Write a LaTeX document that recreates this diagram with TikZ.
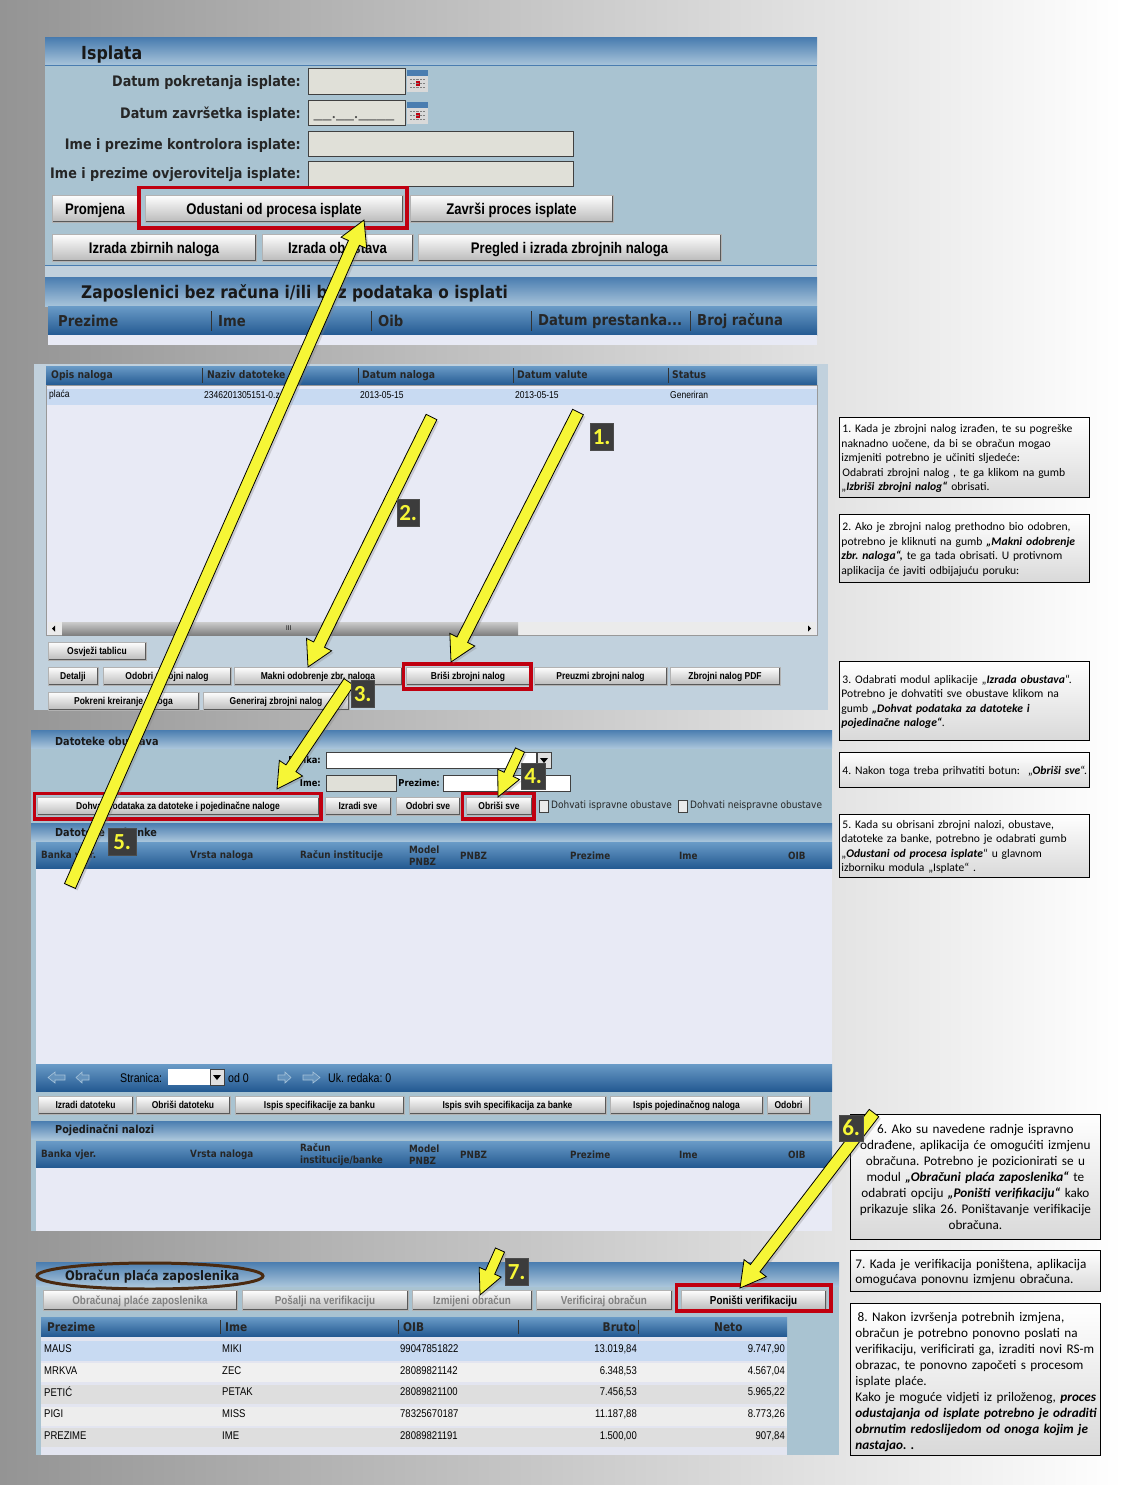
\documentclass[tikz,border=0pt]{standalone}
\usepackage{fontspec}
\usetikzlibrary{calc,shadows}
\setmainfont{Carlito}
\newfontfamily\uifont[FakeStretch=0.88]{DejaVu Sans}
\newfontfamily\btnfont[FakeStretch=0.85]{Liberation Sans}
\definecolor{panelblue}{HTML}{A9C3D1}
\definecolor{panelpale}{HTML}{C1D1DD}
\definecolor{lavender}{HTML}{E8EAF5}
\definecolor{rowblue}{HTML}{C8DAF2}
\definecolor{fieldgrey}{HTML}{E0E0D8}
\definecolor{barTop}{HTML}{4A7DB0}
\definecolor{barBottom}{HTML}{A8C4DA}
\definecolor{headTop}{HTML}{6A9BC7}
\definecolor{headBottom}{HTML}{245A92}
\definecolor{frameRed}{HTML}{C00010}
\definecolor{arrowYellow}{HTML}{F6F636}
\definecolor{tagGrey}{HTML}{3C3C3C}
\definecolor{ovalBrown}{HTML}{4A2A10}
\newcommand{\blockarrow}[4]{%
  \coordinate (neck) at ($(#2)!25pt!(#1)$);
  \draw [yellowarrow] ($(#1)!#3!90:(#2)$) -- ($(neck)!#3!-90:(#1)$) -- ($(neck)!#4!-90:(#1)$) -- (#2)
    -- ($(neck)!#4!90:(#1)$) -- ($(neck)!#3!90:(#1)$) -- ($(#1)!#3!-90:(#2)$) -- cycle;}
\newcommand{\calicon}[2]{%
  \fill [black!15] (#1,#2) rectangle +(21,22);
  \fill [barTop] (#1,#2) rectangle +(21,6);
  \fill [frameRed] (#1+9,#2+11) rectangle +(4,5);
  \draw [black!50,densely dotted] (#1+3,#2+9) -- +(15,0) (#1+3,#2+13) -- +(15,0) (#1+3,#2+17) -- +(15,0);}
\tikzset{
  titlebar/.style={top color=barTop, bottom color=barBottom},
  headbar/.style={top color=headTop, bottom color=headBottom},
  headsep/.style={draw=black!80, line width=.8pt},
  titletext/.style={anchor=west, inner sep=0pt, font=\uifont\bfseries\fontsize{18}{18}\selectfont, text=black!90},
  smalltitle/.style={anchor=west, inner sep=0pt, font=\uifont\bfseries\fontsize{11}{11}\selectfont, text=black!90},
  labeltext/.style={anchor=east, inner sep=0pt, font=\uifont\bfseries\fontsize{14.5}{14.5}\selectfont, text=black!85},
  headtext/.style={anchor=west, inner sep=0pt, font=\uifont\bfseries\fontsize{15}{15}\selectfont, text=black!85},
  headsmall/.style={anchor=west, inner sep=0pt, align=left, font=\uifont\bfseries\fontsize{10}{12}\selectfont, text=black!85},
  nalogtext/.style={headsmall, text height=8pt, text depth=2pt, font=\uifont\bfseries\fontsize{10.5}{10.5}\selectfont},
  navtext/.style={headsmall, text=black, font=\btnfont\fontsize{12.5}{12.5}\selectfont},
  columntext/.style={headsmall, font=\uifont\bfseries\fontsize{12}{12}\selectfont},
  cellnode/.style={anchor=west, inner sep=0pt, font=\btnfont\fontsize{10}{10}\selectfont},
  widecell/.style={cellnode, font=\btnfont\fontsize{11.2}{11.2}\selectfont},
  cellright/.style={widecell, anchor=east},
  formtext/.style={anchor=east, inner sep=0pt, font=\uifont\bfseries\fontsize{9.5}{9.5}\selectfont},
  fieldbox/.style={draw=black!75, fill=fieldgrey, line width=.8pt},
  uibutton/.style={draw=black!30, top color=white, bottom color=black!27, inner sep=0pt, outer sep=0pt, anchor=north west, text depth=0pt, font=\btnfont\bfseries\fontsize{10}{10}\selectfont,
    path picture={\draw [black!65, line width=2pt] (path picture bounding box.south west) -- (path picture bounding box.south east) -- (path picture bounding box.north east);}},
  bigbutton/.style={uibutton, minimum height=27pt, font=\btnfont\bfseries\fontsize{15.4}{15.4}\selectfont},
  lowbutton/.style={uibutton, minimum height=18pt},
  wanbutton/.style={uibutton, minimum height=20pt, font=\btnfont\bfseries\fontsize{11.6}{11.6}\selectfont, text=black!50},
  redframe/.style={draw=frameRed, line width=3.2pt},
  yellowarrow/.style={fill=arrowYellow, draw=black, line width=.8pt, line join=miter, drop shadow={opacity=.3, shadow xshift=2pt, shadow yshift=-2pt}},
  numbertag/.style={fill=tagGrey, draw=black!70, text=arrowYellow, inner sep=0pt, anchor=north west, font=\bfseries\fontsize{23}{23}\selectfont},
  notebox/.style={draw=black, line width=.8pt, top color=white, bottom color=black!15, anchor=north west, inner xsep=2pt, inner ysep=0pt, text width=246pt, align=left, font=\fontsize{11.6}{14.5}\selectfont},
  bignote/.style={notebox, font=\fontsize{13.2}{16}\selectfont},
  navarrow/.style={fill=black!5!headTop, draw=barBottom, line width=.6pt},
}
\frenchspacing
\begin{document}
\begin{tikzpicture}[x=1pt,y=-1pt]
\useasboundingbox (0,0) rectangle (1123,1485);
\fill [left color=black!42, middle color=black!24, right color=white] (0,0) rectangle (1123,1485);

\fill [panelblue] (45,38) rectangle (817,265);
\fill [panelpale] (45,265) rectangle (817,278);
\shade [titlebar] (45,38) rectangle (817,65);
\draw [barTop] (45,65) -- (817,65) (45,265) -- (817,265);
\node [titletext] (isplatatitle) at (81,55) {Isplata};
\node [labeltext] (labelstart) at (301,83) {Datum pokretanja isplate:};
\node [labeltext] (labelend) at (301,114) {Datum završetka isplate:};
\node [labeltext] (labelcontrol) at (301,145) {Ime i prezime kontrolora isplate:};
\node [labeltext] (labelverify) at (301,174.5) {Ime i prezime ovjerovitelja isplate:};
\draw [fieldbox] (308,68) rectangle (405,94);
\draw [fieldbox] (308,100) rectangle (405,125);
\draw [fieldbox] (308,131) rectangle (573,156);
\draw [fieldbox] (308,161) rectangle (573,186);
\node [inner sep=0pt, text=black!70, font=\fontsize{18}{18}\selectfont] (datemask) at (354,119) {\_\_.\_\_.\_\_\_\_};
\calicon{407}{70}
\calicon{407}{102}
\node [bigbutton, minimum width=86pt] (btnpromjena) at (52,195) {Promjena};
\node [bigbutton, minimum width=258pt] (btnodustani) at (145,195) {Odustani od procesa isplate};
\node [bigbutton, minimum width=203pt] (btnzavrsi) at (410,195) {Završi proces isplate};
\node [bigbutton, minimum width=204pt] (btnzbirni) at (52,234) {Izrada zbirnih naloga};
\node [bigbutton, minimum width=151pt] (btnobustava) at (262,234) {Izrada obustava};
\node [bigbutton, minimum width=303pt] (btnpregled) at (418,234) {Pregled i izrada zbrojnih naloga};
\draw [redframe] (139,187.5) rectangle (407,228);
\shade [titlebar] (45,277) rectangle (817,306);
\shade [headbar] (48,306) rectangle (817,335);
\fill [lavender] (48,335) rectangle (817,345);
\node [titletext, font=\uifont\bfseries\fontsize{17.4}{17.4}\selectfont] (zaposlenicititle) at (81,293.5) {Zaposlenici bez računa i/ili bez podataka o isplati};
\node [headtext] (headprezime) at (58,321) {Prezime};
\node [headtext] (headime) at (218,321) {Ime};
\node [headtext] (headoib) at (378,321) {Oib};
\node [headtext] (headprestanak) at (538,321) {Datum prestanka...};
\node [headtext] (headracun) at (697,321) {Broj računa};
\draw [headsep] (211,311) -- (211,331) (371,311) -- (371,331) (531,311) -- (531,331) (690,311) -- (690,331);

\fill [panelpale] (34,364) rectangle (828,710);
\fill [lavender] (46,385) rectangle (817,635);
\shade [headbar] (46,366) rectangle (817,385);
\fill [rowblue] (46,389) rectangle (817,405);
\draw [black!40] (46,385) rectangle (817,635);
\node [nalogtext] (nalogopis) at (51,375.5) {Opis naloga};
\node [nalogtext] (nalogdatoteka) at (207,375.5) {Naziv datoteke};
\node [nalogtext] (nalogdatum) at (362,375.5) {Datum naloga};
\node [nalogtext] (nalogvaluta) at (517,375.5) {Datum valute};
\node [nalogtext] (nalogstatus) at (672,375.5) {Status};
\draw [headsep] (202,368) -- (202,383) (358,368) -- (358,383) (513,368) -- (513,383) (668,368) -- (668,383);
\node [cellnode] (cellplaca) at (49,395) {plaća};
\node [cellnode] (celldatoteka) at (204,395) {2346201305151-0.z};
\node [cellnode] (celldatum) at (360,395) {2013-05-15};
\node [cellnode] (cellvaluta) at (515,395) {2013-05-15};
\node [cellnode] (cellstatus) at (670,395) {Generiran};
\fill [black!8] (48,622) rectangle (816,635);
\shade [top color=black!20, bottom color=black!50] (62,622) rectangle (518,635);
\fill (55,625.5) -- (55,631.5) -- (52,628.5) -- cycle;
\fill (808,625.5) -- (808,631.5) -- (811,628.5) -- cycle;
\node [cellnode, font=\btnfont\fontsize{7}{7}\selectfont] (scrollgrip) at (286,628.5) {III};
\node [lowbutton, minimum width=98pt] (btnosvjezi) at (48,642) {Osvježi tablicu};
\node [lowbutton, minimum width=50pt] (btndetalji) at (48,667) {Detalji};
\node [lowbutton, minimum width=128pt] (btnodobri) at (103,667) {Odobri zbrojni nalog};
\node [lowbutton, minimum width=168pt] (btnmakni) at (234,667) {Makni odobrenje zbr. naloga};
\node [lowbutton, minimum width=124pt] (btnbrisi) at (406,667) {Briši zbrojni nalog};
\node [lowbutton, minimum width=133pt] (btnpreuzmi) at (534,667) {Preuzmi zbrojni nalog};
\node [lowbutton, minimum width=110pt] (btnpdf) at (670,667) {Zbrojni nalog PDF};
\node [lowbutton, minimum width=151pt] (btnpokreni) at (48,692) {Pokreni kreiranje naloga};
\node [lowbutton, minimum width=146pt] (btngeneriraj) at (203,692) {Generiraj zbrojni nalog};
\draw [redframe] (403.5,664) rectangle (531,689);

\fill [panelblue] (31,730) rectangle (832,1231);
\shade [titlebar] (31,730) rectangle (832,748);
\node [smalltitle] (datoteketitle) at (55,741) {Datoteke obustava};
\node [formtext] (labelbanka) at (321,760) {Banka:};
\draw [fieldbox, fill=white] (326,752) rectangle (536,768);
\draw [fieldbox, fill=black!12] (537,752) rectangle (551,768);
\fill (540,758) -- (548,758) -- (544,763) -- cycle;
\node [formtext] (labelime) at (321,783) {Ime:};
\draw [fieldbox] (326,775) rectangle (396,791);
\node [formtext] (labelprezime) at (440,783) {Prezime:};
\draw [fieldbox, fill=white] (443,775) rectangle (570,791);
\node [lowbutton, minimum width=282pt] (btndohvat) at (37,797) {Dohvat podataka za datoteke i pojedinačne naloge};
\node [lowbutton, minimum width=66pt] (btnizradisve) at (325,797) {Izradi sve};
\node [lowbutton, minimum width=64pt] (btnodobrisve) at (396,797) {Odobri sve};
\node [lowbutton, minimum width=66pt] (btnobrisisve) at (466,797) {Obriši sve};
\draw [redframe] (34.5,793.5) rectangle (321,819);
\draw [redframe] (462.5,793.5) rectangle (534,819);
\draw [fieldbox, fill=black!8] (539,800) rectangle (548,812);
\node [headsmall, font=\uifont\fontsize{10.2}{10.2}\selectfont] (checkispravne) at (551,806) {Dohvati ispravne obustave};
\draw [fieldbox, fill=black!8] (678,800) rectangle (687,812);
\node [headsmall, font=\uifont\fontsize{10.2}{10.2}\selectfont] (checkneispravne) at (690,806) {Dohvati neispravne obustave};
\shade [titlebar] (31,823) rectangle (832,841);
\node [smalltitle] (bankatitle) at (55,832) {Datoteke za banke};
\fill [lavender] (36,868) rectangle (832,1064);
\shade [headbar] (36,842) rectangle (832,868);
\node [headsmall] (bankavjer) at (41,855.5) {Banka vjer.};
\node [headsmall] (bankavrsta) at (190,855.5) {Vrsta naloga};
\node [headsmall] (bankaracun) at (300,855.5) {Račun institucije};
\node [headsmall] (bankamodel) at (409,855.5) {Model\\PNBZ};
\node [headsmall] (bankapnbz) at (460,855.5) {PNBZ};
\node [headsmall] (bankaprezime) at (570,855.5) {Prezime};
\node [headsmall] (bankaime) at (679,855.5) {Ime};
\node [headsmall] (bankaoib) at (788,855.5) {OIB};
\shade [headbar] (36,1064) rectangle (832,1091);
\draw [navarrow] (48,1077.5) -- (55,1072) -- (55,1075) -- (65,1075) -- (65,1080) -- (55,1080) -- (55,1083) -- cycle;
\draw [navarrow] (76,1077.5) -- (82,1072) -- (82,1075) -- (89,1075) -- (89,1080) -- (82,1080) -- (82,1083) -- cycle;
\draw [navarrow] (291,1077.5) -- (285,1072) -- (285,1075) -- (278,1075) -- (278,1080) -- (285,1080) -- (285,1083) -- cycle;
\draw [navarrow] (320,1077.5) -- (313,1072) -- (313,1075) -- (303,1075) -- (303,1080) -- (313,1080) -- (313,1083) -- cycle;
\node [navtext] (navstranica) at (120,1078) {Stranica:};
\fill [white] (168,1069) rectangle (210,1085);
\draw [fieldbox, fill=black!12] (210,1069) rectangle (224,1085);
\fill (213,1075) -- (221,1075) -- (217,1080) -- cycle;
\node [navtext] (navod) at (228,1078) {od 0};
\node [navtext] (navredaka) at (328,1078) {Uk. redaka: 0};
\node [lowbutton, minimum width=95pt] (btnizradidat) at (38,1096) {Izradi datoteku};
\node [lowbutton, minimum width=94pt] (btnobrisidat) at (136,1096) {Obriši datoteku};
\node [lowbutton, minimum width=169pt] (btnispisspec) at (235,1096) {Ispis specifikacije za banku};
\node [lowbutton, minimum width=197pt] (btnispissvih) at (409,1096) {Ispis svih specifikacija za banke};
\node [lowbutton, minimum width=153pt] (btnispispoj) at (610,1096) {Ispis pojedinačnog naloga};
\node [lowbutton, minimum width=43pt] (btnodobrizad) at (767,1096) {Odobri};
\shade [titlebar] (31,1121) rectangle (832,1139);
\node [smalltitle] (nalozititle) at (55,1130.5) {Pojedinačni nalozi};
\fill [lavender] (36,1167) rectangle (832,1231);
\shade [headbar] (36,1141) rectangle (832,1167);
\node [headsmall] (pojvjer) at (41,1154.5) {Banka vjer.};
\node [headsmall] (pojvrsta) at (190,1154.5) {Vrsta naloga};
\node [headsmall] (pojracun) at (300,1154.5) {Račun\\institucije/banke};
\node [headsmall] (pojmodel) at (409,1154.5) {Model\\PNBZ};
\node [headsmall] (pojpnbz) at (460,1154.5) {PNBZ};
\node [headsmall] (pojprezime) at (570,1154.5) {Prezime};
\node [headsmall] (pojime) at (679,1154.5) {Ime};
\node [headsmall] (pojoib) at (788,1154.5) {OIB};

\fill [panelblue] (36,1262) rectangle (839,1455);
\shade [titlebar] (36,1262) rectangle (839,1286);
\draw [ovalBrown, line width=3pt] (150,1276) ellipse [x radius=113, y radius=13];
\node [smalltitle, font=\uifont\bfseries\fontsize{13.1}{13.1}\selectfont] (obracuntitle) at (65,1276.5) {Obračun plaća zaposlenika};
\node [wanbutton, minimum width=194pt] (btnobracunaj) at (43,1290) {Obračunaj plaće zaposlenika};
\node [wanbutton, minimum width=166pt] (btnposalji) at (242,1290) {Pošalji na verifikaciju};
\node [wanbutton, minimum width=120pt] (btnizmijeni) at (412,1290) {Izmijeni obračun};
\node [wanbutton, minimum width=136pt] (btnverificiraj) at (536,1290) {Verificiraj obračun};
\node [wanbutton, minimum width=145pt, text=black] (btnponisti) at (681,1290) {Poništi verifikaciju};
\draw [redframe] (676.5,1285) rectangle (831,1311);
\fill [black!2!lavender] (41,1336) rectangle (787,1455);
\shade [headbar] (41,1317) rectangle (787,1336);
\fill [rowblue] (41,1341) rectangle (787,1361);
\fill [black!6] (41,1363) rectangle (787,1382);
\fill [black!13] (41,1385) rectangle (787,1404);
\fill [black!7] (41,1407) rectangle (787,1426);
\fill [black!13] (41,1428) rectangle (787,1447);
\node [columntext] (colprezime) at (47,1327) {Prezime};
\node [columntext] (colime) at (225,1327) {Ime};
\node [columntext] (coloib) at (403,1327) {OIB};
\node [columntext, anchor=east] (colbruto) at (636,1327) {Bruto};
\node [columntext] (colneto) at (714,1327) {Neto};
\draw [headsep] (220,1320) -- (220,1334) (398,1320) -- (398,1334) (518,1320) -- (518,1334) (638,1320) -- (638,1334);
\node [widecell] (mausa) at (44,1349) {MAUS};
\node [widecell] (mausb) at (222,1349) {MIKI};
\node [widecell] (mausc) at (400,1349) {99047851822};
\node [cellright] (mausd) at (637,1349) {13.019,84};
\node [cellright] (mause) at (785,1349) {9.747,90};
\node [widecell] (mrkvaa) at (44,1371) {MRKVA};
\node [widecell] (mrkvab) at (222,1371) {ZEC};
\node [widecell] (mrkvac) at (400,1371) {28089821142};
\node [cellright] (mrkvad) at (637,1371) {6.348,53};
\node [cellright] (mrkvae) at (785,1371) {4.567,04};
\node [widecell] (petica) at (44,1392) {PETIĆ};
\node [widecell] (peticb) at (222,1392) {PETAK};
\node [widecell] (peticc) at (400,1392) {28089821100};
\node [cellright] (peticd) at (637,1392) {7.456,53};
\node [cellright] (petice) at (785,1392) {5.965,22};
\node [widecell] (pigia) at (44,1414) {PIGI};
\node [widecell] (pigib) at (222,1414) {MISS};
\node [widecell] (pigic) at (400,1414) {78325670187};
\node [cellright] (pigid) at (637,1414) {11.187,88};
\node [cellright] (pigie) at (785,1414) {8.773,26};
\node [widecell] (prezimea) at (44,1436) {PREZIME};
\node [widecell] (prezimeb) at (222,1436) {IME};
\node [widecell] (prezimec) at (400,1436) {28089821191};
\node [cellright] (prezimed) at (637,1436) {1.500,00};
\node [cellright] (prezimee) at (785,1436) {907,84};

\node [notebox, minimum height=80pt] (noteone) at (839,417) {\rule{0pt}{10.5pt}\hspace*{1pt}1. Kada je zbrojni nalog izrađen, te su pogreške\\naknadno uočene, da bi se obračun mogao\\izmjeniti potrebno je učiniti sljedeće:\\\hspace*{1pt}Odabrati zbrojni nalog , te ga klikom na gumb\\„\textbf{\textit{Izbriši zbrojni nalog“}} obrisati.};
\node [notebox, minimum height=68pt] (notetwo) at (839,514) {\rule{0pt}{10.5pt}\hspace*{1pt}2. Ako je zbrojni nalog prethodno bio odobren,\\potrebno je kliknuti na gumb \textbf{\textit{„Makni odobrenje\\zbr. naloga“,}} te ga tada obrisati. U protivnom\\aplikacija će javiti odbijajuću poruku:};
\node [notebox, minimum height=79pt] (notethree) at (839,661) {\rule{0pt}{10.5pt}\hspace*{1pt}3. Odabrati modul aplikacije „\textbf{\textit{Izrada obustava}}“.\\Potrebno je dohvatiti sve obustave klikom na\\gumb \textbf{\textit{„Dohvat podataka za datoteke i\\pojedinačne naloge“}}.};
\node [notebox, minimum height=35pt] (notefour) at (839,752) {\rule{0pt}{10.5pt}\hspace*{1pt}\mbox{4. Nakon toga treba prihvatiti botun:\ \ „\textbf{\textit{Obriši sve}}“.}};
\node [notebox, minimum height=63pt] (notefive) at (839,814) {\rule{0pt}{10.5pt}\hspace*{1pt}5. Kada su obrisani zbrojni nalozi, obustave,\\datoteke za banke, potrebno je odabrati gumb\\„\textbf{\textit{Odustani od procesa isplate}}“ u glavnom\\izborniku modula „Isplate“ .};
\node [bignote, minimum height=125pt, align=center] (notesix) at (850,1114) {6. Ako su navedene radnje ispravno\\odrađene, aplikacija će omogućiti izmjenu\\obračuna. Potrebno je pozicionirati se u\\modul \textbf{\textit{„Obračuni plaća zaposlenika“}} te\\odabrati opciju \textbf{\textit{„Poništi verifikaciju“}} kako\\prikazuje slika 26. Poništavanje verifikacije\\obračuna.};
\node [bignote, minimum height=41pt, font=\fontsize{13.2}{15}\selectfont] (noteseven) at (850,1250) {\rule{0pt}{13pt}\hspace*{3pt}7. Kada je verifikacija poništena, aplikacija\\\hspace*{3pt}omogućava ponovnu izmjenu obračuna.};
\node [bignote, minimum height=152pt] (noteeight) at (850,1303) {\rule{0pt}{14.5pt}\hspace*{3pt}\,8. Nakon izvršenja potrebnih izmjena,\\\hspace*{3pt}obračun je potrebno ponovno poslati na\\\hspace*{3pt}verifikaciju, verificirati ga, izraditi novi RS-m\\\hspace*{3pt}obrazac, te ponovno započeti s procesom\\\hspace*{3pt}isplate plaće.\\\hspace*{3pt}Kako je moguće vidjeti iz priloženog, \textbf{\textit{proces\\\hspace*{3pt}odustajanja od isplate potrebno je odraditi\\\hspace*{3pt}obrnutim redoslijedom od onoga kojim je\\\hspace*{3pt}nastajao. .}}};

\coordinate (tailone) at (578,412);
\coordinate (tipone) at (451,662);
\coordinate (tailtwo) at (431.5,417);
\coordinate (tiptwo) at (308,667);
\coordinate (tailthree) at (349,682);
\coordinate (tipthree) at (277,789);
\coordinate (tailfour) at (520,750);
\coordinate (tipfour) at (498,797);
\coordinate (tailfive) at (70,886);
\coordinate (tipfive) at (364,220);
\coordinate (tailsix) at (874,1113);
\coordinate (tipsix) at (740,1288);
\coordinate (tailseven) at (500,1250);
\coordinate (tipseven) at (480,1295);
\blockarrow{tailfive}{tipfive}{6pt}{14pt}
\blockarrow{tailtwo}{tiptwo}{6pt}{14pt}
\blockarrow{tailone}{tipone}{6pt}{14pt}
\blockarrow{tailthree}{tipthree}{6pt}{14pt}
\blockarrow{tailfour}{tipfour}{5pt}{12pt}
\blockarrow{tailsix}{tipsix}{6pt}{14pt}
\blockarrow{tailseven}{tipseven}{5pt}{12pt}

\node [numbertag, minimum width=23pt, minimum height=27pt] (tagone) at (590,423) {1.};
\node [numbertag, minimum width=22pt, minimum height=27pt] (tagtwo) at (397,499) {2.};
\node [numbertag, minimum width=23pt, minimum height=27pt] (tagthree) at (351,680) {3.};
\node [numbertag, minimum width=24pt, minimum height=26pt] (tagfour) at (521,763) {4.};
\node [numbertag, minimum width=28pt, minimum height=27pt] (tagfive) at (108,828) {5.};
\node [numbertag, minimum width=24pt, minimum height=26pt] (tagsix) at (839,1115) {6.};
\node [numbertag, minimum width=23pt, minimum height=27pt] (tagseven) at (505,1258) {7.};
\end{tikzpicture}
\end{document}
